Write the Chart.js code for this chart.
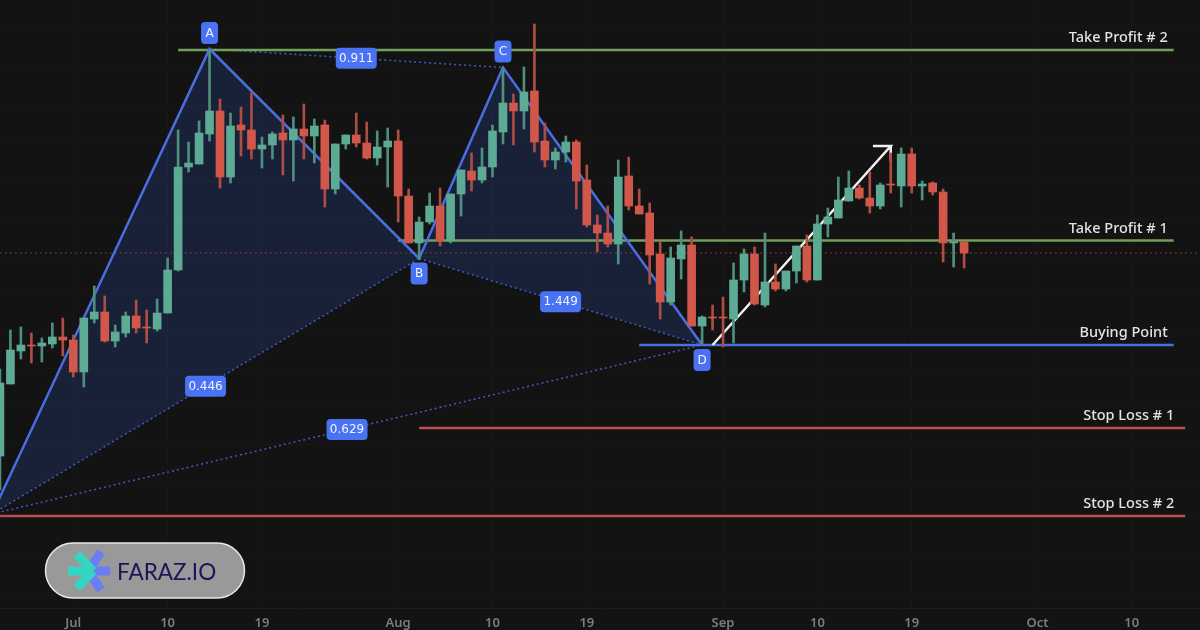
<!DOCTYPE html>
<html>
<head>
<meta charset="utf-8">
<title>Harmonic pattern</title>
<script src="https://cdn.jsdelivr.net/npm/chart.js@4/dist/chart.umd.min.js"></script>
<style>
    html, body { margin: 0; padding: 0; background: #131313; overflow: hidden; }
    canvas { display: block; filter: blur(0.4px); }
</style>
</head>
<body>
<canvas id="chart" width="1200" height="630"></canvas>
<script>
//Candles, one per day. Day 0 is 1 Jul
const firstDay = -7
const opens = [174,246,279,285,284,286,293,290,258,311,318,289,297,314,303,301,317,360,463,466,496,519,453,505,500,481,485,497,490,501,494,505,441,486,495,487,472,483,489,434,387,408,424,389,436,459,450,463,498,527,519,539,489,470,478,488,450,405,397,386,454,424,417,376,328,371,385,304,313,313,311,350,376,325,348,341,359,384,350,406,412,429,442,432,424,446,444,476,444,447,438,387,388]
const highs = [261,300,303,297,292,307,312,295,312,344,334,305,318,330,320,331,372,500,488,509,580,531,517,523,538,493,498,515,513,526,511,510,486,495,517,508,499,502,500,441,413,437,442,436,460,477,482,505,562,536,563,606,507,482,494,490,465,415,424,470,473,441,427,388,383,399,393,314,325,333,367,381,383,397,366,359,384,395,415,422,453,459,445,458,447,477,482,482,449,448,441,397,388]
const lows = [140,246,271,267,268,282,274,253,243,307,288,283,293,297,287,299,317,359,458,466,489,442,447,474,471,462,471,455,449,471,467,423,436,481,483,471,465,443,408,387,371,406,384,387,414,439,447,453,486,485,501,478,463,461,468,421,403,378,383,366,420,416,346,311,325,351,304,286,300,283,287,338,325,323,339,339,347,348,350,393,412,429,431,417,421,437,423,437,430,435,368,363,362]
const closes = [247,280,285,284,287,293,290,258,312,318,289,298,314,302,302,317,360,463,467,497,519,453,504,500,481,485,496,490,501,494,504,441,486,495,487,472,483,489,434,387,408,424,389,436,460,450,463,499,527,519,538,488,470,478,488,449,405,397,386,453,424,416,375,328,372,385,304,313,312,312,350,376,326,348,341,359,384,350,406,413,430,442,432,424,445,445,476,444,446,438,387,388,377]

//Axis ticks
const tickDays = [0, 9, 18, 31, 40, 49, 62, 71, 80, 92, 101]
const tickLabels = ['Jul', '10', '19', 'Aug', '10', '19', 'Sep', '10', '19', 'Oct', '10']
const priceGrid = [36, 73.5, 111, 148.5, 186, 223.5, 261, 298.5, 336, 373.5, 411, 448.5, 486, 523.5, 561, 598.5]

//Harmonic pattern points
const patternNames = ['X', 'A', 'B', 'C', 'D']
const patternDays = [-7.76, 13, 33, 41, 60]
const patternPrices = [116, 581, 371.5, 562.5, 285]

//Ratios sit halfway along the dotted legs
const ratioLabels = ['0.446', '0.629', '0.911', '1.449']
const ratioFrom = [0, 0, 1, 2]
const ratioTo = [2, 4, 3, 4]

//Horizontal levels
const levelNames = ['Take Profit # 2', 'Take Profit # 1', 'Buying Point', 'Stop Loss # 1', 'Stop Loss # 2']
const levelPrices = [580, 389.5, 285, 202, 114]
const levelFrom = [10, 31, 54, 33, -7]
const levelTo = [105, 105, 105, 106.1, 106.1]
const currentPrice = 377

//Arrow
const arrowDays = [61, 78, 76.3, 78, 78]
const arrowPrices = [285, 484, 484, 484, 469]

const colors = {
    background: '#131313',
    grid: '#171717',
    up: '#5dab94',
    down: '#d2574b',
    upWick: '#4f8f7d',
    downWick: '#ad4d44',
    pattern: '#4a6ee0',
    dotted: '#3f5bbd',
    fill: 'rgba(60, 115, 255, 0.16)',
    label: '#4a73f3',
    levels: ['#739f5c', '#739f5c', '#4a6ee0', '#b9514a', '#b9514a'],
    text: '#e3e3e3',
    tick: '#7d7d7d'
}

const days = opens.map((_, i) => firstDay + i)
const isUp = i => closes[i] >= opens[i]
const pts = (xs, ys) => xs.map((x, i) => ({ x: x, y: ys[i] }))
const pick = (list, idx) => idx.map(i => list[i])

const bodies = days.map((d, i) => ({ x: d, y: [opens[i], closes[i]] }))
const wicks = days.map((d, i) => ({ x: d, y: [lows[i], highs[i]] }))

const lineBase = { type: 'line', pointRadius: 0, borderJoinStyle: 'miter', tension: 0 }
const legs = ratioFrom.map((from, i) => ({
    ...lineBase,
    data: pts(pick(patternDays, [from, ratioTo[i]]), pick(patternPrices, [from, ratioTo[i]])),
    borderColor: colors.dotted,
    borderWidth: 1.5,
    borderDash: [2, 3],
    order: 4
}))
const levels = levelNames.map((_, i) => ({
    ...lineBase,
    data: [{ x: levelFrom[i], y: levelPrices[i] }, { x: levelTo[i], y: levelPrices[i] }],
    borderColor: colors.levels[i],
    borderWidth: 2.5,
    order: 3
}))
const triangle = idx => ({
    ...lineBase,
    data: pts(pick(patternDays, idx), pick(patternPrices, idx)),
    borderWidth: 0,
    backgroundColor: colors.fill,
    fill: 'shape',
    order: 6
})

//Letters, ratios, level names and the logo
const annotations = {
    id: 'annotations',
    afterDatasetsDraw(chart) {
        const ctx = chart.ctx
        const x = chart.scales.x
        const y = chart.scales.y

        const pill = (cx, cy, w, h, text, font) => {
            ctx.fillStyle = colors.label
            ctx.beginPath()
            ctx.roundRect(cx - w / 2, cy - h / 2, w, h, 4)
            ctx.fill()
            ctx.fillStyle = '#f2f4ff'
            ctx.font = font
            ctx.textAlign = 'center'
            ctx.textBaseline = 'middle'
            ctx.fillText(text, cx, cy + 0.5)
        }

        ratioLabels.forEach((text, i) => {
            const a = ratioFrom[i]
            const b = ratioTo[i]
            const cx = (x.getPixelForValue(patternDays[a]) + x.getPixelForValue(patternDays[b])) / 2
            const cy = (y.getPixelForValue(patternPrices[a]) + y.getPixelForValue(patternPrices[b])) / 2
            pill(cx, cy, 41, 21, text, '12px "DejaVu Sans"')
        })

        patternNames.forEach((name, i) => {
            if (i === 0) return
            const above = i % 2 === 1
            const cx = x.getPixelForValue(patternDays[i])
            const cy = y.getPixelForValue(patternPrices[i]) + (above ? -16 : 15)
            pill(cx, cy, 17, 22, name, '12px "DejaVu Sans"')
        })

        ctx.fillStyle = colors.text
        ctx.font = '500 14.5px "Noto Sans"'
        ctx.textAlign = 'right'
        ctx.textBaseline = 'middle'
        levelNames.forEach((name, i) => {
            const right = x.getPixelForValue(levelTo[i]) - (i < 3 ? 6 : 11)
            ctx.fillText(name, right, y.getPixelForValue(levelPrices[i]) - 12)
        })

        //Logo
        ctx.beginPath()
        ctx.roundRect(45.5, 543, 199, 55, 27.5)
        ctx.fillStyle = '#999999'
        ctx.fill()
        ctx.strokeStyle = '#e8e8e8'
        ctx.lineWidth = 1.5
        ctx.stroke()
        const star = (color, cx, cy, tips) => {
            ctx.strokeStyle = color
            ctx.lineWidth = 9
            tips.forEach(t => {
                ctx.beginPath()
                ctx.moveTo(cx, cy)
                ctx.lineTo(t[0], t[1])
                ctx.stroke()
            })
        }
        star('#6b7df5', 88, 571, [[110, 571], [101, 552], [101, 590]])
        star('#35d5c3', 93, 571, [[68, 571], [77, 554], [77, 588]])
        ctx.fillStyle = '#1b1658'
        ctx.font = '22.5px Lato'
        ctx.textAlign = 'left'
        ctx.textBaseline = 'alphabetic'
        ctx.fillText('FARAZ.IO', 117, 580)
    }
}

new Chart(document.getElementById('chart'), {
    data: {
        datasets: [
            {
                type: 'bar',
                data: bodies,
                grouped: false,
                barThickness: 8,
                backgroundColor: c => isUp(c.dataIndex) ? colors.up : colors.down,
                order: 0
            },
            {
                type: 'bar',
                data: wicks,
                grouped: false,
                barThickness: 2,
                backgroundColor: c => isUp(c.dataIndex) ? colors.upWick : colors.downWick,
                order: 1
            },
            ...levels,
            {
                ...lineBase,
                data: [{ x: firstDay, y: currentPrice }, { x: 108, y: currentPrice }],
                borderColor: '#7f3d38',
                borderWidth: 1,
                borderDash: [2, 3],
                order: 5
            },
            ...legs,
            {
                ...lineBase,
                data: pts(patternDays, patternPrices),
                borderColor: colors.pattern,
                borderWidth: 2.5,
                order: 2
            },
            {
                ...lineBase,
                data: pts(arrowDays, arrowPrices),
                borderColor: '#f2f2f2',
                borderWidth: 2.5,
                order: 2
            },
            triangle([0, 1, 2, 0]),
            triangle([2, 3, 4, 2])
        ]
    },
    options: {
        responsive: false,
        animation: false,
        devicePixelRatio: 1,
        layout: { padding: 0 },
        plugins: { legend: { display: false }, tooltip: { enabled: false } },
        scales: {
            x: {
                type: 'linear',
                bounds: 'data',
                offset: false,
                min: -6.994,
                max: 107.51,
                afterBuildTicks: s => { s.ticks = tickDays.map(d => ({ value: d })) },
                afterFit: s => { s.height = 22 },
                grid: { color: colors.grid, drawTicks: false, offset: false },
                border: { color: '#1c1c1c' },
                ticks: {
                    autoSkip: false,
                    maxRotation: 0,
                    padding: 7,
                    color: colors.tick,
                    font: { family: '"Noto Sans"', size: 13, weight: '600' },
                    callback: (v, i) => tickLabels[i]
                }
            },
            y: {
                bounds: 'data',
                min: 22,
                max: 630,
                afterBuildTicks: s => { s.ticks = priceGrid.map(p => ({ value: p })) },
                afterFit: s => { s.width = 0 },
                grid: { color: colors.grid, drawTicks: false },
                border: { display: false },
                ticks: { display: false }
            }
        }
    },
    plugins: [annotations]
})
</script>
</body>
</html>
